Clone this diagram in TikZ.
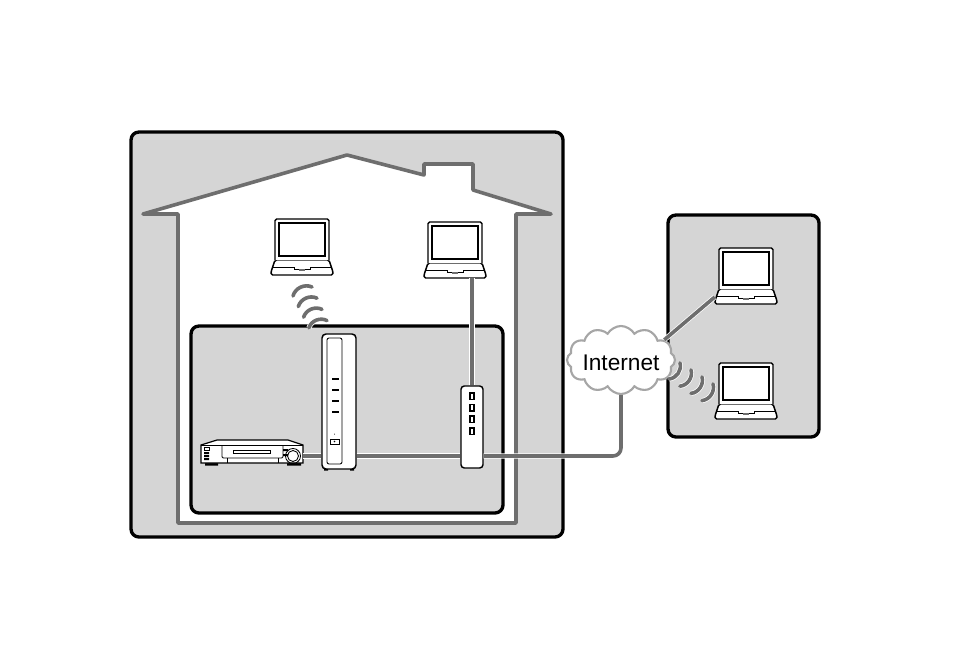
\documentclass[tikz,border=0pt]{standalone}
\usepackage{fontspec}
\setmainfont{Liberation Sans}
\usetikzlibrary{shapes.symbols}
\definecolor{panelGray}{HTML}{D5D5D5}
\definecolor{wireGray}{HTML}{6E6E6E}
\definecolor{cloudGray}{HTML}{A6A6A6}
\tikzset{
  panel/.style={fill=panelGray,draw=black,line width=2.5pt,rounded corners=6pt},
  wire/.style={draw=wireGray,line width=2.7pt,preaction={draw=white,line width=3.8pt}},
  wave/.style={wire,line cap=round},
  device/.style={draw=black,fill=white,line width=1.1pt,inner sep=0pt},
  thin line/.style={draw=black,line width=0.65pt},
  laptop/.pic={
    \node (-body) [minimum width=46.5pt,minimum height=42pt,inner sep=0pt] at (0,-1) {};
    \draw[device,rounded corners=1.2pt] (-31,24) -- (-27,12) -- (27,12) -- (31,24) -- (31,27) -- (-31,27) -- cycle;
    \draw[device,rounded corners=1.2pt] (-27,12) -- (-27,-29) -- (27,-29) -- (27,12);
    \draw[device,line width=1.7pt] (-23,-25) rectangle (23,8);
    \draw[thin line] (-30,19) -- (-8,19) -- (-8,21) -- (8,21) -- (8,19) -- (30,19);
    \fill[wireGray] (-3,21) rectangle (3,23);
  }
}
\begin{document}
\begin{tikzpicture}[x=0.75pt,y=-0.75pt]
\useasboundingbox (0,0) rectangle (954,671);
% boxes
\draw[panel] (131,132) rectangle (563,537);
\draw[panel] (668,215) rectangle (819,437);
\draw[fill=white,draw=wireGray,line width=2.7pt,line join=round]
  (143,214) -- (347,155) -- (424,175) -- (424,164) -- (473,164) -- (473,190) -- (551,214)
  -- (516,214) -- (516,523) -- (178,523) -- (178,214) -- cycle;
\draw[panel] (191,326) rectangle (503,513);
% laptops
\pic (lapA) at (302,248) {laptop};
\pic (lapB) at (455,251) {laptop};
\pic (lapC) at (746,277) {laptop};
\pic (lapD) at (746,392) {laptop};
% router
\node (router) [device,rounded corners=3pt,minimum width=25.5pt,minimum height=101.25pt] at (339,401.5) {};
\draw[thin line,rounded corners=1.5pt] (327,338) rectangle (342,464);
\foreach \ledY in {378,389,400,411}
  \draw[draw=black,line width=0.4pt,fill=white] (332,\ledY) rectangle (338,\ledY+1.5);
\fill (334.5,434) circle (0.5);
\draw[thin line] (330,439) rectangle (339,444);
\fill (334.5,441.5) circle (0.8);
\fill (324,469) rectangle (328,470.5) (350,469) rectangle (354,470.5);
% modem
\node (modem) [device,rounded corners=2.5pt,minimum width=16.5pt,minimum height=61.5pt] at (472,427) {};
\foreach \ledY in {393,404.5,416,428}
  \draw[draw=black,line width=0.8pt] (470,\ledY) rectangle (474,\ledY+6.5);
% vcr
\node (vcr) [minimum width=76.5pt,minimum height=18.75pt,inner sep=0pt] at (252,452.5) {};
\fill (205,463) rectangle (218,465.5) (287,463) rectangle (301,465.5);
\draw[device,line width=0.9pt] (201,445) -- (217,440) -- (288,440) -- (303,445) -- (303,463) -- (201,463) -- cycle;
\draw[thin line] (201,445) -- (303,445);
\draw[thin line,rounded corners=1pt] (222,445.5) -- (222,458) -- (283,458) -- (283,445.5);
\draw[thin line] (233,450) rectangle (270,453);
\draw[thin line] (227,458) -- (227,463) (278,458) -- (278,463);
\draw[thin line] (204,447) rectangle (209,450);
\fill (204,452) rectangle (209,454) (204,455) rectangle (209,457) (204,458) rectangle (209,460);
\fill (283,449) rectangle (288,451) (283,454) rectangle (288,456);
\draw[thin line] (293,456) circle (7.5);
\draw[thin line] (293,456) circle (5.5);
% cloud
\node (cloud) [cloud,cloud puffs=12,cloud puff arc=120,cloud ignores aspect,draw=cloudGray,fill=white,line width=1.6pt,
  minimum width=81pt,minimum height=51pt,inner sep=0pt] at (621,360) {};
\node (cloudtext) [font=\fontsize{17}{20}\selectfont,inner sep=0pt] at (621,362.5) {Internet};
% wires
\coordinate (trunk) at (0,456);
\draw[wire] (vcr.east |- trunk) -- (router.west |- trunk);
\draw[wire] (router.east |- trunk) -- (modem.west |- trunk);
\draw[wire,rounded corners=6pt] (modem.east |- trunk) -- (cloud.south |- trunk) -- (cloud.south);
\draw[wire] (modem.north) -- (modem.north |- lapB-body.south);
\draw[wire] (cloud.25) -- (lapC-body.west |- 0,297);
% waves
\foreach \i in {0,1,2,3}
  \draw[wave] (293+5.3*\i,296+10.6*\i) to[bend left=50] (312+5*\i,287+11.2*\i);
\foreach \i in {0,1,2,3}
  \draw[wave] (669+11*\i,379+7.2*\i) to[bend right=50] (680+11*\i,363+7*\i);
\end{tikzpicture}
\end{document}
